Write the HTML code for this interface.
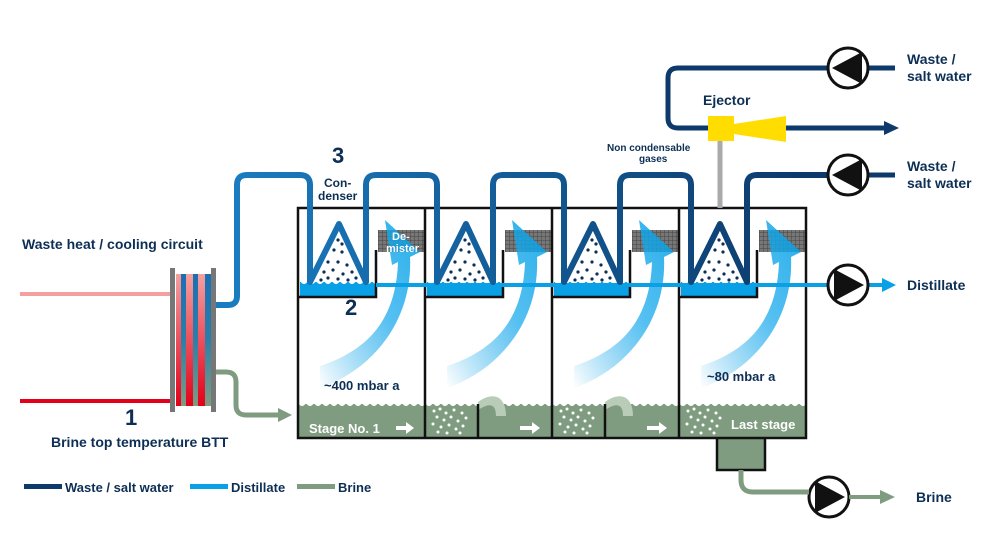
<!DOCTYPE html>
<html><head><meta charset="utf-8"><style>
html,body{margin:0;padding:0;background:#fff}
svg{display:block}
text{font-family:"Liberation Sans",Arial,sans-serif;font-weight:bold;fill:#0d2f55}
</style></head><body>
<svg width="1000" height="548" viewBox="0 0 1000 548" xmlns="http://www.w3.org/2000/svg">
<defs>
<linearGradient id="pipe" x1="230" x2="800" y1="0" y2="0" gradientUnits="userSpaceOnUse">
<stop offset="0" stop-color="#1a7cc0"/><stop offset="1" stop-color="#0d3a6b"/></linearGradient>
<linearGradient id="vap" x1="0" y1="1" x2="1" y2="0">
<stop offset="0" stop-color="#0aa0e6" stop-opacity="0"/><stop offset="0.55" stop-color="#2bb0ee" stop-opacity="0.8"/><stop offset="1" stop-color="#00a0e6" stop-opacity="0.85"/></linearGradient>
<linearGradient id="hxg" x1="0" y1="0" x2="0" y2="1">
<stop offset="0" stop-color="#f4a0a0"/><stop offset="1" stop-color="#e3001b"/></linearGradient>
<linearGradient id="hxb" x1="0" y1="0" x2="0" y2="1">
<stop offset="0" stop-color="#1a6fb5"/><stop offset="0.5" stop-color="#2a7fa8"/><stop offset="1" stop-color="#7f9c80"/></linearGradient>
<pattern id="grid" width="4" height="4" patternUnits="userSpaceOnUse">
<rect width="4" height="4" fill="#777"/><path d="M0 0H4M0 0V4" stroke="#444" stroke-width="1"/></pattern>
<g id="stage">
  <rect x="0" y="404" width="127" height="34" fill="#7f9c80"/>
  <path d="M0 403 q4 6 8 0 q4 6 8 0 q4 6 8 0 q4 6 8 0 q4 6 8 0 q4 6 8 0 q4 6 8 0 q4 6 8 0 q4 6 8 0 q4 6 8 0 q4 6 8 0 q4 6 8 0 q4 6 8 0 q4 6 8 0 q4 6 8 0 q4 6 8 0 V398 H0Z" fill="#fff"/>
  <rect x="80" y="230" width="46" height="22" fill="url(#grid)"/>
  <path d="M22 366 C70 350 98 320 100 262 L94 265 L87 220 L122 252 L112 257 C115 320 75 370 22 388 Z" fill="url(#vap)"/>
  <rect x="2" y="282" width="76" height="15" fill="#0aa0e6"/>
  <path d="M2 281 q4 6 8 0 q4 6 8 0 q4 6 8 0 q4 6 8 0 q4 6 8 0 q4 6 8 0 q4 6 8 0 q4 6 8 0 q4 6 8 0 q4 6 8 0 V276 H2Z" fill="#fff"/>
  <path d="M1 297H78V250" fill="none" stroke="#111" stroke-width="2.5"/>
  <g fill="#0d2f55">
   <circle cx="40" cy="240" r="1.6"/><circle cx="36" cy="250" r="1.6"/><circle cx="44" cy="252" r="1.6"/><circle cx="30" cy="262" r="1.6"/><circle cx="40" cy="262" r="1.6"/><circle cx="49" cy="265" r="1.6"/><circle cx="26" cy="272" r="1.6"/><circle cx="35" cy="270" r="1.6"/><circle cx="45" cy="274" r="1.6"/><circle cx="54" cy="272" r="1.6"/><circle cx="30" cy="278" r="1.6"/><circle cx="40" cy="279" r="1.6"/><circle cx="50" cy="280" r="1.6"/><circle cx="58" cy="278" r="1.6"/><circle cx="23" cy="280" r="1.6"/><circle cx="44" cy="244" r="1.6"/>
  </g>
</g>
<g id="bub" fill="#fff">
 <circle cx="4" cy="4" r="1.5"/><circle cx="10" cy="2" r="1.5"/><circle cx="16" cy="6" r="1.5"/><circle cx="24" cy="3" r="1.5"/><circle cx="32" cy="6" r="1.5"/><circle cx="7" cy="10" r="1.5"/><circle cx="14" cy="13" r="1.5"/><circle cx="21" cy="10" r="1.5"/><circle cx="28" cy="14" r="1.5"/><circle cx="36" cy="11" r="1.5"/><circle cx="3" cy="17" r="1.5"/><circle cx="11" cy="20" r="1.5"/><circle cx="19" cy="18" r="1.5"/><circle cx="26" cy="22" r="1.5"/><circle cx="33" cy="19" r="1.5"/><circle cx="8" cy="25" r="1.5"/><circle cx="17" cy="26" r="1.5"/><circle cx="30" cy="26" r="1.5"/>
</g>
</defs>

<use href="#stage" x="298"/>
<use href="#stage" x="425"/>
<use href="#stage" x="552"/>
<use href="#stage" x="679"/>
<rect x="717" y="436" width="48" height="34" fill="#7f9c80"/>
<path d="M717 438V470H765V438" fill="none" stroke="#111" stroke-width="2.5"/>
<use href="#bub" x="430" y="407"/><use href="#bub" x="557" y="407"/><use href="#bub" x="684" y="407"/>
<path d="M478 402 C495 390 506 398 506 416 L496 416 C496 404 490 402 478 410Z" fill="#b8ccb8"/>
<path d="M605 402 C622 390 633 398 633 416 L623 416 C623 404 617 402 605 410Z" fill="#b8ccb8"/>
<g stroke="#111" stroke-width="2.5" fill="none">
<rect x="298" y="208" width="508" height="230"/>
<line x1="425" y1="208" x2="425" y2="438"/><line x1="552" y1="208" x2="552" y2="438"/><line x1="679" y1="208" x2="679" y2="438"/>
<line x1="478" y1="404" x2="478" y2="438"/><line x1="605" y1="404" x2="605" y2="438"/>
</g>
<g fill="#fff">
<path d="M396 426h10v-4l8 6l-8 6v-4h-10z"/>
<path d="M520 426h12v-4l8 6l-8 6v-4h-12z"/>
<path d="M647 426h12v-4l8 6l-8 6v-4h-12z"/>
</g>
<line x1="376" y1="285" x2="828" y2="285" stroke="#0aa0e6" stroke-width="4"/>
<line x1="868" y1="285" x2="884" y2="285" stroke="#0aa0e6" stroke-width="4"/>
<path d="M882 278L896 285L882 292Z" fill="#0aa0e6"/>
<path d="M216 305H228Q237 305 237 296V185Q237 175 247 175H300Q310 175 310 185V282L339 224L366 282V185Q366 175 376 175H427Q437 175 437 185V282L466 224L493 282V185Q493 175 503 175H554Q564 175 564 185V282L593 224L620 282V185Q620 175 630 175H681Q691 175 691 185V282L720 224L747 282V185Q747 175 757 175H828" fill="none" stroke="url(#pipe)" stroke-width="6" stroke-linejoin="round"/>
<path d="M828 68H678Q668 68 668 78V118Q668 128 678 128H886" fill="none" stroke="#0d3a6b" stroke-width="5"/>
<path d="M884 121L899 128L884 135Z" fill="#0d3a6b"/>
<line x1="868" y1="68" x2="895" y2="68" stroke="#0d3a6b" stroke-width="5"/>
<line x1="868" y1="175" x2="895" y2="175" stroke="#0d3a6b" stroke-width="5"/>
<line x1="720" y1="140" x2="720" y2="208" stroke="#aaa" stroke-width="5"/>
<rect x="708" y="116" width="26" height="25" fill="#ffdd00"/>
<path d="M734 124L786 116V142L734 134Z" fill="#ffdd00"/>
<g fill="#fff" stroke="#111" stroke-width="3">
<circle cx="848" cy="68" r="20"/><circle cx="848" cy="175" r="20"/><circle cx="848" cy="285" r="20"/><circle cx="829" cy="497" r="20"/>
</g>
<g fill="#111">
<path d="M832 68L862 52V84Z"/><path d="M832 175L862 159V191Z"/><path d="M864 285L834 269V301Z"/><path d="M845 497L815 481V513Z"/>
</g>
<path d="M741 470V480Q741 492 753 492H809" fill="none" stroke="#7f9c80" stroke-width="5"/>
<line x1="849" y1="497" x2="882" y2="497" stroke="#7f9c80" stroke-width="4"/>
<path d="M880 490L895 497L880 504Z" fill="#7f9c80"/>
<line x1="20" y1="294" x2="172" y2="294" stroke="#f4a0a0" stroke-width="4"/>
<line x1="20" y1="401" x2="172" y2="401" stroke="#e3001b" stroke-width="4"/>
<rect x="176" y="274" width="36" height="132" fill="url(#hxg)"/>
<rect x="181" y="274" width="5" height="132" fill="url(#hxb)"/>
<rect x="193" y="274" width="5" height="132" fill="url(#hxb)"/>
<rect x="205" y="274" width="6" height="132" fill="url(#hxb)"/>
<rect x="170" y="268" width="5" height="144" fill="#777"/>
<rect x="211" y="268" width="5" height="144" fill="#777"/>
<path d="M216 372H226Q236 372 236 382V405Q236 415 246 415H280" fill="none" stroke="#7f9c80" stroke-width="5"/>
<path d="M278 408L292 415L278 422Z" fill="#7f9c80"/>
<rect x="24" y="484" width="38" height="5" fill="#0d3a6b"/>
<rect x="190" y="484" width="38" height="5" fill="#0aa0e6"/>
<rect x="297" y="484" width="38" height="5" fill="#7f9c80"/>
<g font-size="13">
<text x="65" y="492">Waste / salt water</text>
<text x="231" y="492">Distillate</text>
<text x="338" y="492">Brine</text>
</g>
<text x="22" y="249" font-size="14">Waste heat / cooling circuit</text>
<text x="125" y="425" font-size="22">1</text>
<text x="51" y="447" font-size="14">Brine top temperature BTT</text>
<text x="332" y="163" font-size="22">3</text>
<text x="345" y="315" font-size="22">2</text>
<text x="324" y="187" font-size="12">Con-</text>
<text x="318" y="200" font-size="12">denser</text>
<text x="392" y="240" font-size="11" style="fill:#fff">De-</text>
<text x="386" y="252" font-size="11" style="fill:#fff">mister</text>
<text x="324" y="390" font-size="13">~400 mbar a</text>
<text x="707" y="381" font-size="13">~80 mbar a</text>
<text x="309" y="433" font-size="13" style="fill:#fff">Stage No. 1</text>
<text x="731" y="429" font-size="13" style="fill:#fff">Last stage</text>
<text x="703" y="105" font-size="14">Ejector</text>
<text x="607" y="151" font-size="10">Non condensable</text>
<text x="639" y="162" font-size="10">gases</text>
<text x="907" y="64" font-size="14">Waste /</text>
<text x="907" y="81" font-size="14">salt water</text>
<text x="907" y="171" font-size="14">Waste /</text>
<text x="907" y="188" font-size="14">salt water</text>
<text x="907" y="290" font-size="14">Distillate</text>
<text x="916" y="502" font-size="14">Brine</text>
</svg>
</body></html>
